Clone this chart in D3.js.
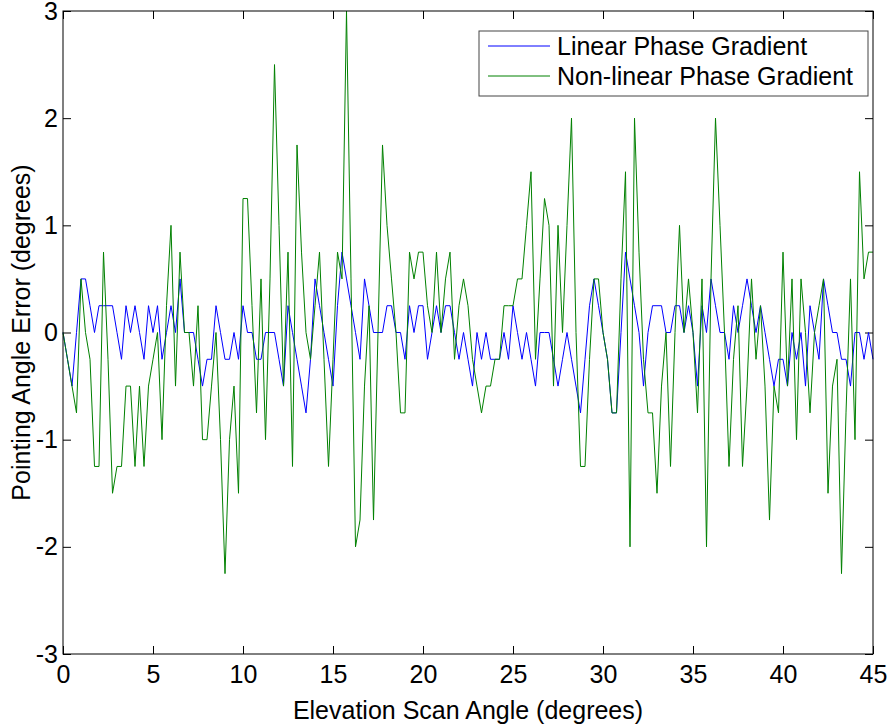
<!DOCTYPE html>
<html>
<head>
<meta charset="utf-8">
<script src="https://cdn.jsdelivr.net/npm/d3@7"></script>
<style>
  body { margin: 0; background: #fff; }
  text { font-family: "Liberation Sans", Arial, sans-serif; }
</style>
</head>
<body>
<div id="chart"></div>
<script>
// scan angle step between samples (degrees)
const angleStep = 0.25;

// pointing angle error, linear phase gradient (deg)
const linearErr = [
  0, -0.25, -0.5, 0, 0.5, 0.5, 0.25, 0, 0.25, 0.25,
  0.25, 0.25, 0, -0.25, 0.25, 0, 0.25, 0, -0.25, 0.25,
  0, 0.25, -0.25, 0, 0.25, 0, 0.5, 0, 0, 0,
  -0.25, -0.5, -0.25, -0.25, 0.25, 0, -0.25, -0.25, 0, -0.25,
  0.25, 0, 0, -0.25, -0.25, 0, 0, 0, -0.25, -0.5,
  0.25, 0, -0.25, -0.5, -0.75, -0.25, 0.5, 0.25, 0, -0.25,
  -0.5, 0.25, 0.75, 0.5, 0.25, 0, -0.25, 0.5, 0.25, 0,
  0, 0, 0.25, 0.25, 0, 0, -0.25, 0.25, 0, 0.25,
  0.25, -0.25, 0, 0.25, 0, 0.25, 0.25, 0, -0.25, 0,
  -0.25, -0.5, 0, -0.25, 0, -0.25, -0.25, -0.25, 0, -0.25,
  0.25, 0, -0.25, 0, -0.25, -0.5, 0, 0, 0, -0.25,
  -0.5, -0.25, 0, -0.25, -0.5, -0.75, -0.25, 0.25, 0.5, 0.25,
  0, -0.25, -0.75, -0.75, 0, 0.75, 0.5, 0.25, 0, -0.5,
  0, 0.25, 0.25, 0.25, 0, 0, 0.25, 0.25, 0, 0.25,
  0, -0.5, 0.25, 0, 0.5, 0.25, 0, 0, -0.25, 0.25,
  0, 0.25, 0.5, 0.25, 0, 0.25, 0, -0.25, -0.5, -0.25,
  -0.25, -0.5, 0, -0.25, 0, -0.5, 0.25, 0, -0.25, 0.5,
  0.25, 0, 0, -0.25, -0.25, -0.5, 0, 0, -0.25, 0,
  -0.25
];

// pointing angle error, non-linear phase gradient (deg)
const nonlinearErr = [
  0, -0.25, -0.5, -0.75, 0.5, 0, -0.25, -1.25, -1.25, 0.75,
  -0.25, -1.5, -1.25, -1.25, -0.5, -0.5, -1.25, -0.5, -1.25, -0.5,
  -0.25, 0, -1, 0.25, 1, -0.5, 0.75, 0, 0, -0.5,
  0.25, -1, -1, -0.5, 0, -1, -2.25, -1, -0.5, -1.5,
  1.25, 1.25, 0.25, -0.75, 0.5, -1, 0.5, 2.5, 1, -0.5,
  0.75, -1.25, 1.75, 0.75, 0, -0.25, 0.25, 0.75, -0.25, -1.25,
  -0.25, 0.75, 0.5, 3, 0.5, -2, -1.75, -0.5, 0.25, -1.75,
  0, 1.75, 1, 0.5, 0, -0.75, -0.75, 0.75, 0.5, 0.75,
  0.75, 0.25, 0, 0.75, 0, 0.5, 0.75, -0.25, 0.25, 0.5,
  0.25, -0.25, -0.5, -0.75, -0.5, -0.5, -0.25, -0.25, 0.25, 0.25,
  0.25, 0.5, 0.5, 1, 1.5, -0.25, 0.5, 1.25, 1, -0.5,
  1, 0, 1, 2, 0, -1.25, -1.25, -0.25, 0.5, 0.5,
  0, -0.25, -0.75, -0.75, 0.5, 1.5, -2, 2, 0.75, -0.25,
  -0.75, -0.75, -1.5, -0.5, 0, -1.25, 0, 1, 0, 0.5,
  0, -0.75, 0.5, -2, 0.5, 2, 1, 0, -1.25, -0.25,
  0.25, -1.25, -0.5, 0.5, -0.25, 0.25, -0.5, -1.75, -0.5, -0.75,
  0.75, -0.5, 0.5, -1, 0.5, 0, -0.75, 0, 0.25, 0.5,
  -1.5, -0.5, -0.25, -2.25, -0.75, 0.5, -1, 1.5, 0.5, 0.75,
  0.75
];

const xTicks = [0, 5, 10, 15, 20, 25, 30, 35, 40, 45];
const yTicks = [-3, -2, -1, 0, 1, 2, 3];
const seriesNames = ["Linear Phase Gradient", "Non-linear Phase Gradient"];
const seriesColors = ["#0000ff", "#008000"];

const W = 892, H = 727;
const margin = {top: 11, right: 19, bottom: 73, left: 63};
const width = W - margin.left - margin.right;
const height = H - margin.top - margin.bottom;

const svg = d3.select("#chart").append("svg")
    .attr("width", W)
    .attr("height", H);

const g = svg.append("g")
    .attr("transform", `translate(${margin.left},${margin.top})`);

const x = d3.scaleLinear().domain([0, 45]).range([0, width]);
const y = d3.scaleLinear().domain([-3, 3]).range([height, 0]);

// plain hyphen minus like the original, not the unicode one
const fmt = d => String(d);

// axes, ticks point inward like matlab
const fontSize = "25px";
const styleAxis = sel => {
    sel.selectAll(".domain").remove();
    sel.selectAll(".tick line").attr("stroke", "#000");
    sel.selectAll("text").attr("fill", "#000")
        .style("font-size", fontSize)
        .style("font-family", '"Liberation Sans", Arial, sans-serif');
};

g.append("g")
    .attr("transform", `translate(0,${height})`)
    .call(d3.axisBottom(x).tickValues(xTicks).tickSizeInner(-8).tickSizeOuter(0).tickPadding(11).tickFormat(fmt))
    .call(styleAxis);

g.append("g")
    .call(d3.axisLeft(y).tickValues(yTicks).tickSizeInner(-8).tickSizeOuter(0).tickPadding(5).tickFormat(fmt))
    .call(styleAxis);

g.append("g")
    .call(d3.axisTop(x).tickValues(xTicks).tickSizeInner(-8).tickSizeOuter(0).tickFormat(""))
    .call(styleAxis);

g.append("g")
    .attr("transform", `translate(${width},0)`)
    .call(d3.axisRight(y).tickValues(yTicks).tickSizeInner(-8).tickSizeOuter(0).tickFormat(""))
    .call(styleAxis);

// lines
const line = d3.line()
    .x((d, i) => x(i * angleStep))
    .y(d => y(d));

[linearErr, nonlinearErr].forEach((data, k) => {
    g.append("path")
        .datum(data)
        .attr("fill", "none")
        .attr("stroke", seriesColors[k])
        .attr("stroke-width", 1)
        .attr("d", line);
});

// plot box
g.append("rect")
    .attr("width", width)
    .attr("height", height)
    .attr("fill", "none")
    .attr("stroke", "#000")
    .attr("stroke-width", 1);

// legend
const legend = g.append("g").attr("transform", `translate(${479 - margin.left},${31 - margin.top})`);
legend.append("rect")
    .attr("width", 389)
    .attr("height", 65)
    .attr("fill", "#fff")
    .attr("stroke", "#444");
seriesNames.forEach((name, k) => {
    const ly = 15 + k * 30;
    legend.append("line")
        .attr("x1", 9).attr("x2", 71)
        .attr("y1", ly).attr("y2", ly)
        .attr("stroke", seriesColors[k]);
    legend.append("text")
        .attr("x", 78)
        .attr("y", ly)
        .attr("dy", "0.35em")
        .style("font-size", fontSize)
        .text(name);
});

// axis titles
svg.append("text")
    .attr("x", margin.left + width / 2)
    .attr("y", 719)
    .attr("text-anchor", "middle")
    .style("font-size", fontSize)
    .text("Elevation Scan Angle (degrees)");

svg.append("text")
    .attr("transform", `translate(30,${margin.top + height / 2}) rotate(-90)`)
    .attr("text-anchor", "middle")
    .style("font-size", fontSize)
    .text("Pointing Angle Error (degrees)");
</script>
</body>
</html>
